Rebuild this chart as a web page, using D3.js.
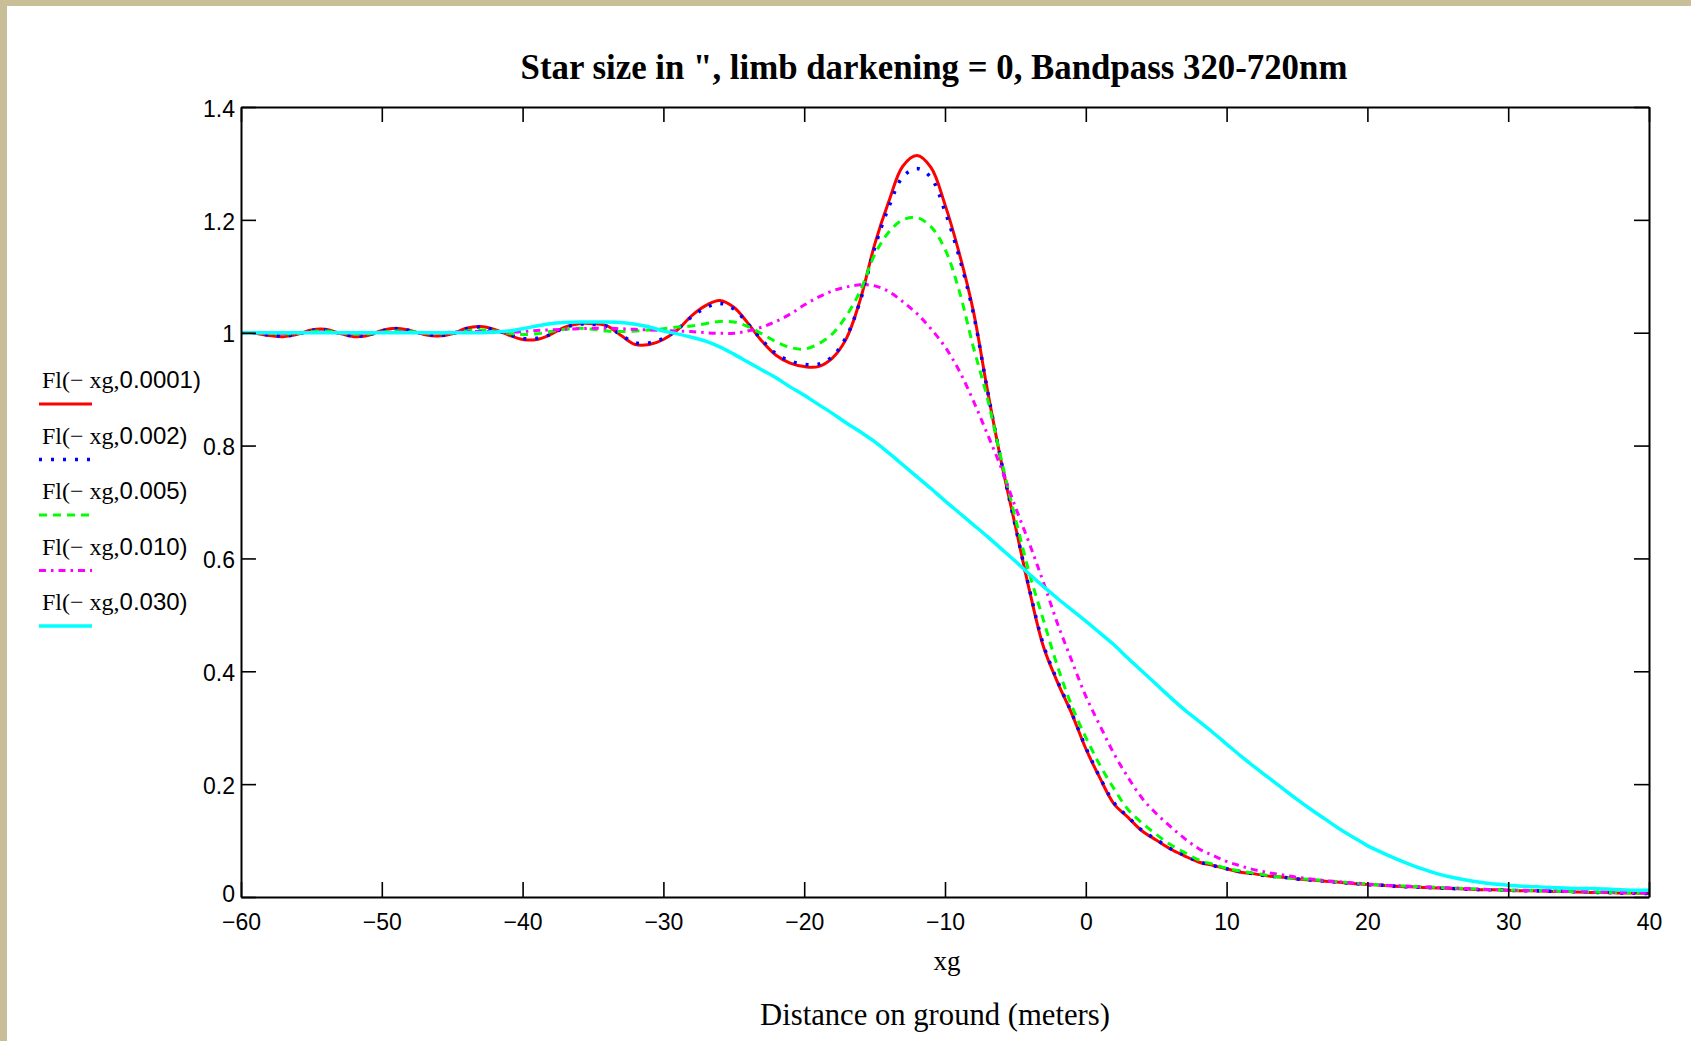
<!DOCTYPE html>
<html>
<head>
<meta charset="utf-8">
<script src="https://cdn.jsdelivr.net/npm/d3@7"></script>
<style>
  html, body { margin: 0; padding: 0; background: #ffffff; }
  svg { display: block; }
</style>
</head>
<body>
<svg id="chart" width="1691" height="1041"></svg>
<script>
// Sample positions along the ground (metres)
const xg = [
  -60,-59,-58,-57,-56,-55,-54,-53,-52,-51,-50,-49,-48,-47,-46,-45,-44,-43,-42,-41,
  -40,-39,-38,-37,-36,-35,-34,-33,-32,-31,-30,-29,-28,-27,-26,-25,-24,-23,-22,-21,
  -20,-19,-18,-17,-16,-15,-14,-13,-12,-11,-10,-9,-8,-7,-6,-5,-4,-3,-2,-1,
  0,1,2,3,4,5,6,7,8,9,10,11,12,13,14,15,16,17,18,19,
  20,21,22,23,24,25,26,27,28,29,30,31,32,33,34,35,36,37,38,39,40
];

// Relative flux for each star size (arcsec)
const fl0001 = [
  1.000,0.999,0.995,0.993,0.997,1.005,1.006,0.999,0.993,0.995,1.004,1.008,1.004,0.997,0.994,0.998,1.008,1.011,1.006,0.996,
  0.988,0.988,0.997,1.010,1.016,1.016,1.012,0.995,0.979,0.979,0.988,1.005,1.030,1.048,1.057,1.045,1.017,0.985,0.960,0.946,
  0.940,0.940,0.955,0.990,1.060,1.156,1.232,1.295,1.314,1.293,1.227,1.142,1.040,0.900,0.771,0.657,0.543,0.443,0.380,0.325,
  0.263,0.211,0.165,0.141,0.117,0.101,0.085,0.073,0.062,0.056,0.050,0.044,0.041,0.037,0.035,0.032,0.030,0.028,0.026,0.024,
  0.022,0.021,0.019,0.018,0.017,0.016,0.015,0.014,0.013,0.013,0.012,0.011,0.011,0.010,0.010,0.009,0.008,0.008,0.007,0.007,0.006
];
const fl002 = [
  1.000,0.999,0.996,0.994,0.997,1.004,1.005,0.999,0.994,0.996,1.003,1.007,1.004,0.998,0.995,0.998,1.007,1.010,1.005,0.997,
  0.990,0.990,0.997,1.009,1.015,1.015,1.011,0.996,0.982,0.982,0.990,1.006,1.028,1.044,1.052,1.042,1.016,0.987,0.963,0.950,
  0.944,0.944,0.958,0.993,1.058,1.150,1.222,1.276,1.291,1.275,1.215,1.135,1.036,0.900,0.771,0.657,0.545,0.446,0.382,0.326,
  0.265,0.212,0.167,0.142,0.118,0.102,0.086,0.074,0.063,0.056,0.050,0.045,0.041,0.037,0.035,0.032,0.030,0.028,0.026,0.024,
  0.022,0.021,0.019,0.018,0.017,0.016,0.015,0.014,0.013,0.013,0.012,0.011,0.011,0.010,0.010,0.009,0.008,0.008,0.007,0.007,0.006
];
const fl005 = [
  1.000,1.000,0.999,0.998,0.999,1.002,1.003,1.000,0.998,0.998,1.001,1.003,1.002,1.000,0.999,1.000,1.003,1.005,1.003,0.999,
  0.997,0.998,1.002,1.006,1.008,1.006,1.003,1.002,1.003,1.005,1.007,1.010,1.012,1.016,1.020,1.019,1.011,0.998,0.984,0.974,
  0.971,0.980,0.998,1.030,1.075,1.138,1.178,1.200,1.204,1.188,1.148,1.075,0.976,0.885,0.775,0.671,0.573,0.490,0.408,0.339,
  0.283,0.234,0.192,0.155,0.131,0.111,0.093,0.079,0.066,0.058,0.051,0.046,0.042,0.038,0.035,0.033,0.031,0.029,0.027,0.025,
  0.023,0.021,0.020,0.019,0.018,0.017,0.016,0.015,0.014,0.013,0.012,0.012,0.011,0.011,0.010,0.009,0.009,0.008,0.008,0.007,0.007
];
const fl010 = [
  1.000,1.000,1.000,0.999,1.000,1.001,1.001,1.000,0.999,1.000,1.001,1.001,1.001,1.000,1.000,1.001,1.002,1.002,1.002,1.001,
  1.002,1.004,1.005,1.006,1.007,1.008,1.008,1.007,1.006,1.005,1.004,1.003,1.002,1.000,0.999,0.999,1.003,1.010,1.020,1.033,
  1.049,1.063,1.074,1.081,1.085,1.083,1.073,1.055,1.034,1.007,0.975,0.933,0.880,0.821,0.760,0.691,0.626,0.557,0.484,0.419,
  0.356,0.304,0.254,0.212,0.175,0.148,0.125,0.104,0.086,0.074,0.063,0.055,0.048,0.043,0.039,0.035,0.032,0.029,0.027,0.025,
  0.023,0.021,0.020,0.019,0.018,0.017,0.016,0.015,0.014,0.013,0.012,0.012,0.011,0.011,0.010,0.010,0.009,0.009,0.008,0.008,0.007
];
const fl030 = [
  1.000,1.000,1.000,1.000,1.000,1.000,1.000,1.000,1.000,1.000,1.000,1.000,1.000,1.000,1.000,1.000,1.000,1.000,1.001,1.003,
  1.007,1.012,1.016,1.018,1.019,1.019,1.019,1.018,1.015,1.010,1.003,0.998,0.992,0.985,0.975,0.962,0.948,0.934,0.920,0.904,
  0.889,0.873,0.857,0.840,0.824,0.807,0.787,0.766,0.745,0.724,0.702,0.681,0.660,0.639,0.617,0.595,0.572,0.550,0.529,0.509,
  0.489,0.468,0.447,0.423,0.400,0.377,0.354,0.332,0.312,0.292,0.271,0.250,0.230,0.211,0.192,0.173,0.155,0.138,0.121,0.106,
  0.091,0.079,0.068,0.058,0.049,0.041,0.035,0.030,0.026,0.023,0.021,0.019,0.018,0.017,0.016,0.015,0.015,0.014,0.013,0.012,0.012
];

const seriesNames = ["Fl(− xg,0.0001)", "Fl(− xg,0.002)", "Fl(− xg,0.005)", "Fl(− xg,0.010)", "Fl(− xg,0.030)"];
const xTicks = [-60, -50, -40, -30, -20, -10, 0, 10, 20, 30, 40];
const yTicks = [0, 0.2, 0.4, 0.6, 0.8, 1, 1.2, 1.4];
const yTickLabels = ["0", "0.2", "0.4", "0.6", "0.8", "1", "1.2", "1.4"];

const titleText = "Star size in \", limb darkening = 0, Bandpass 320-720nm";
const xAxisName = "xg";
const xAxisCaption = "Distance on ground (meters)";

// Drawing styles per series
const styles = [
  { color: "#ff0000", width: 3,   dash: null },
  { color: "#0000ff", width: 3.5, dash: "3,9" },
  { color: "#00ff00", width: 3,   dash: "8,6" },
  { color: "#ff00ff", width: 3,   dash: "7,5,2.5,5" },
  { color: "#00ffff", width: 3.5, dash: null }
];
const seriesValues = [fl0001, fl002, fl005, fl010, fl030];

const svg = d3.select("#chart");
const W = 1691, H = 1041;
const plot = { left: 241, right: 1649, top: 107, bottom: 897 };

// Window frame
svg.append("rect").attr("x", 0).attr("y", 0).attr("width", W).attr("height", H).attr("fill", "#ffffff");
svg.append("rect").attr("x", 0).attr("y", 0).attr("width", W).attr("height", 6).attr("fill", "#c8bf99");
svg.append("rect").attr("x", 0).attr("y", 0).attr("width", 7).attr("height", H).attr("fill", "#c8bf99");

const x = d3.scaleLinear().domain([-60, 40]).range([plot.left, plot.right]);
const y = d3.scaleLinear().domain([0, 1.4]).range([plot.bottom, plot.top]);

const sansFont = "'Liberation Sans', Arial, sans-serif";
const serifFont = "'Liberation Serif', 'Times New Roman', serif";

// Curves, clipped to the plot frame
svg.append("defs").append("clipPath").attr("id", "plotClip")
  .append("rect")
  .attr("x", plot.left).attr("y", plot.top - 2)
  .attr("width", plot.right - plot.left).attr("height", plot.bottom - plot.top + 2);

const line = d3.line()
  .x(d => x(d[0]))
  .y(d => y(d[1]))
  .curve(d3.curveCatmullRom.alpha(0.5));

const curves = svg.append("g").attr("clip-path", "url(#plotClip)");
seriesValues.forEach((vals, i) => {
  const pts = xg.map((v, k) => [v, vals[k]]);
  const st = styles[i];
  curves.append("path")
    .datum(pts)
    .attr("d", line)
    .attr("fill", "none")
    .attr("stroke", st.color)
    .attr("stroke-width", st.width)
    .attr("stroke-dasharray", st.dash)
    .attr("stroke-linejoin", "round");
});

// Axes with inward ticks on all four sides
function styleAxis(g) {
  g.select(".domain").attr("stroke", "#000").attr("stroke-width", 2);
  g.selectAll(".tick line").attr("stroke", "#000").attr("stroke-width", 1.6);
}

const bottomAxis = svg.append("g")
  .attr("transform", `translate(0,${plot.bottom})`)
  .call(d3.axisBottom(x).tickValues(xTicks).tickSizeInner(-15).tickSizeOuter(0).tickPadding(17));
styleAxis(bottomAxis);
bottomAxis.selectAll(".tick text")
  .attr("font-family", sansFont).attr("font-size", 23).attr("fill", "#000");

const topAxis = svg.append("g")
  .attr("transform", `translate(0,${plot.top})`)
  .call(d3.axisTop(x).tickValues(xTicks).tickSizeInner(-15).tickSizeOuter(0).tickFormat(""));
styleAxis(topAxis);

const leftAxis = svg.append("g")
  .attr("transform", `translate(${plot.left},0)`)
  .call(d3.axisLeft(y).tickValues(yTicks).tickSizeInner(-15).tickSizeOuter(0).tickPadding(6)
    .tickFormat((d, i) => yTickLabels[i]));
styleAxis(leftAxis);
leftAxis.selectAll(".tick text")
  .attr("font-family", sansFont).attr("font-size", 23).attr("fill", "#000")
  .attr("dy", (d, i) => i === 0 ? "0.2em" : "0.4em");

const rightAxis = svg.append("g")
  .attr("transform", `translate(${plot.right},0)`)
  .call(d3.axisRight(y).tickValues(yTicks).tickSizeInner(-15).tickSizeOuter(0).tickFormat(""));
styleAxis(rightAxis);

// Title, fitted to its span
const title = svg.append("text")
  .attr("x", 934).attr("y", 79)
  .attr("text-anchor", "middle")
  .attr("font-family", serifFont)
  .attr("font-weight", "bold")
  .attr("font-size", 32)
  .attr("fill", "#000")
  .text(titleText);
const tw = title.node().getComputedTextLength();
title.attr("font-size", 32 * 827 / tw);

// Axis captions
svg.append("text")
  .attr("x", 947).attr("y", 970)
  .attr("text-anchor", "middle")
  .attr("font-family", serifFont).attr("font-size", 27).attr("fill", "#000")
  .text(xAxisName);

const cap = svg.append("text")
  .attr("x", 935).attr("y", 1025)
  .attr("text-anchor", "middle")
  .attr("font-family", serifFont).attr("font-size", 30).attr("fill", "#000")
  .text(xAxisCaption);
const cw = cap.node().getComputedTextLength();
cap.attr("font-size", 30 * 350 / cw);

// Legend at the left edge
const legend = svg.append("g");
seriesNames.forEach((name, i) => {
  const baseY = 388 + i * 55.5;
  const st = styles[i];
  const comma = name.indexOf(",");
  const t = legend.append("text")
    .attr("x", 42).attr("y", baseY)
    .attr("font-size", 24).attr("fill", "#000");
  t.append("tspan").attr("font-family", serifFont).text(name.slice(0, comma + 1));
  t.append("tspan").attr("font-family", sansFont).text(name.slice(comma + 1));
  legend.append("line")
    .attr("x1", 39).attr("x2", 92)
    .attr("y1", baseY + 16).attr("y2", baseY + 16)
    .attr("stroke", st.color)
    .attr("stroke-width", st.width)
    .attr("stroke-dasharray", st.dash);
});
</script>
</body>
</html>
